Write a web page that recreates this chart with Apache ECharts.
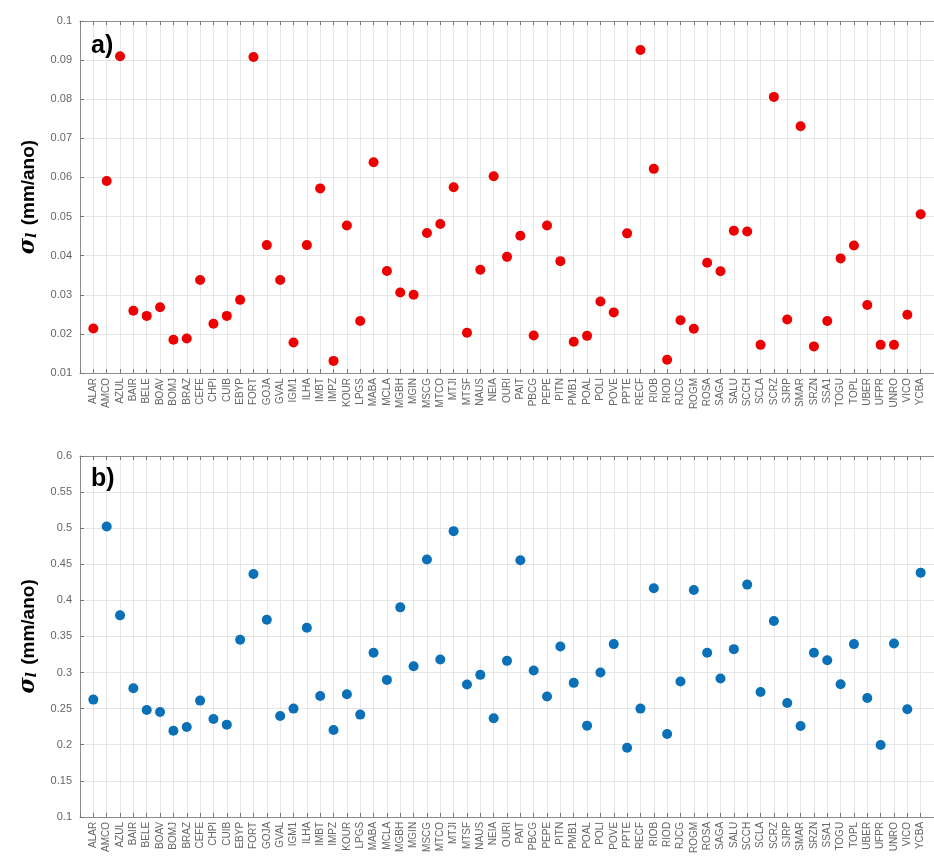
<!DOCTYPE html>
<html>
<head>
<meta charset="utf-8">
<script src="https://cdn.jsdelivr.net/npm/echarts@6/dist/echarts.min.js"></script>
<style>
  html, body { margin: 0; padding: 0; background: #fff; }
  #main { width: 934px; height: 856px; }
</style>
</head>
<body>
<div id="main"></div>
<script>
// station codes along the x axis
const categories = ['ALAR','AMCO','AZUL','BAIR','BELE','BOAV','BOMJ','BRAZ','CEFE','CHPI',
  'CUIB','EBYP','FORT','GOJA','GVAL','IGM1','ILHA','IMBT','IMPZ','KOUR',
  'LPGS','MABA','MCLA','MGBH','MGIN','MSCG','MTCO','MTJI','MTSF','NAUS',
  'NEIA','OURI','PAIT','PBCG','PEPE','PITN','PMB1','POAL','POLI','POVE',
  'PPTE','RECF','RIOB','RIOD','RJCG','ROGM','ROSA','SAGA','SALU','SCCH',
  'SCLA','SCRZ','SJRP','SMAR','SRZN','SSA1','TOGU','TOPL','UBER','UFPR',
  'UNRO','VICO','YCBA'];

// panel a) (red)
const sigmaA = [0.0214,0.0591,0.0910,0.0259,0.0246,0.0268,0.0185,0.0188,0.0338,0.0226,
  0.0246,0.0287,0.0908,0.0427,0.0338,0.0178,0.0427,0.0572,0.0131,0.0477,
  0.0233,0.0639,0.0361,0.0306,0.0300,0.0458,0.0481,0.0575,0.0203,0.0364,
  0.0603,0.0397,0.0451,0.0196,0.0477,0.0386,0.0180,0.0195,0.0283,0.0255,
  0.0457,0.0926,0.0622,0.0134,0.0235,0.0213,0.0382,0.0360,0.0464,0.0462,
  0.0172,0.0806,0.0237,0.0731,0.0168,0.0233,0.0393,0.0426,0.0274,0.0172,
  0.0172,0.0249,0.0506];

// panel b) (blue)
const sigmaB = [0.2625,0.5023,0.3792,0.2782,0.2481,0.2454,0.2194,0.2245,0.2611,0.2356,
  0.2278,0.3454,0.4366,0.3732,0.2398,0.2500,0.3620,0.2676,0.2204,0.2699,
  0.2417,0.3273,0.2898,0.3903,0.3088,0.4565,0.3181,0.4959,0.2833,0.2968,
  0.2366,0.3162,0.4556,0.3028,0.2667,0.3361,0.2857,0.2264,0.3000,0.3394,
  0.1958,0.2500,0.4167,0.2148,0.2875,0.4144,0.3273,0.2917,0.3324,0.4218,
  0.2731,0.3713,0.2579,0.2259,0.3273,0.3171,0.2838,0.3394,0.2648,0.1995,
  0.3403,0.2491,0.4384];

const axisColor = '#8c8c8c';
const gridColor = '#e6e6e6';
const labelColor = '#666';

function xAxes(gridIndex) {
  const base = {
    type: 'value', gridIndex: gridIndex, min: 0, max: categories.length + 1, interval: 1,
    axisLine: { show: true, onZero: false, lineStyle: { color: axisColor } },
    axisTick: { show: true, inside: true, length: 4, lineStyle: { color: '#777' } }
  };
  return [
    Object.assign({}, base, {
      position: 'bottom',
      splitLine: { show: true, lineStyle: { color: gridColor } },
      axisLabel: {
        rotate: 90, fontSize: 10, color: labelColor, margin: 5,
        fontFamily: 'Liberation Sans',
        formatter: v => categories[v - 1] || ''
      }
    }),
    Object.assign({}, base, {
      position: 'top',
      splitLine: { show: false },
      axisLabel: { show: false }
    })
  ];
}

function yAxis(gridIndex, min, max, interval) {
  return {
    type: 'value', gridIndex: gridIndex, min: min, max: max, interval: interval,
    axisLine: { show: true, lineStyle: { color: axisColor } },
    axisTick: { show: true, inside: true, length: 4, lineStyle: { color: '#777' } },
    splitLine: { show: true, lineStyle: { color: gridColor } },
    axisLabel: { fontSize: 11, color: labelColor, margin: 8, fontFamily: 'Liberation Sans' },
    name: '{s|σ}{sub|l} (mm/ano)',
    nameLocation: 'middle',
    nameGap: 40,
    nameRotate: 90,
    nameTextStyle: {
      fontSize: 19, fontWeight: 'bold', color: '#000', fontFamily: 'Liberation Sans',
      rich: {
        s: { fontSize: 22, fontStyle: 'italic', fontFamily: 'DejaVu Serif', color: '#000' },
        sub: { fontSize: 14, fontStyle: 'italic', fontFamily: 'DejaVu Serif', color: '#000', verticalAlign: 'bottom', padding: [8, 2, 0, 0] }
      }
    }
  };
}

const chart = echarts.init(document.getElementById('main'), null, { renderer: 'canvas' });

const option = {
  animation: false,
  backgroundColor: '#fff',
  grid: [
    { left: 80, right: -8, top: 21, height: 352 },
    { left: 80, right: -8, top: 456, height: 361 }
  ],
  xAxis: xAxes(0).concat(xAxes(1)),
  yAxis: [
    yAxis(0, 0.01, 0.1, 0.01),
    yAxis(1, 0.1, 0.6, 0.05)
  ],
  graphic: [
    { type: 'text', left: 91, top: 34, z: 100, style: { text: 'a)', fontSize: 25, fontWeight: 'bold', fill: '#000', fontFamily: 'Liberation Sans' } },
    { type: 'text', left: 91, top: 467, z: 100, style: { text: 'b)', fontSize: 25, fontWeight: 'bold', fill: '#000', fontFamily: 'Liberation Sans' } }
  ],
  series: [
    {
      type: 'scatter', xAxisIndex: 0, yAxisIndex: 0,
      symbolSize: 10,
      itemStyle: { color: '#ec0000', opacity: 1 },
      data: sigmaA.map((v, i) => [i + 1, v])
    },
    {
      type: 'scatter', xAxisIndex: 2, yAxisIndex: 1,
      symbolSize: 10,
      itemStyle: { color: '#0a70b8', opacity: 1 },
      data: sigmaB.map((v, i) => [i + 1, v])
    }
  ]
};

chart.setOption(option);
</script>
</body>
</html>
